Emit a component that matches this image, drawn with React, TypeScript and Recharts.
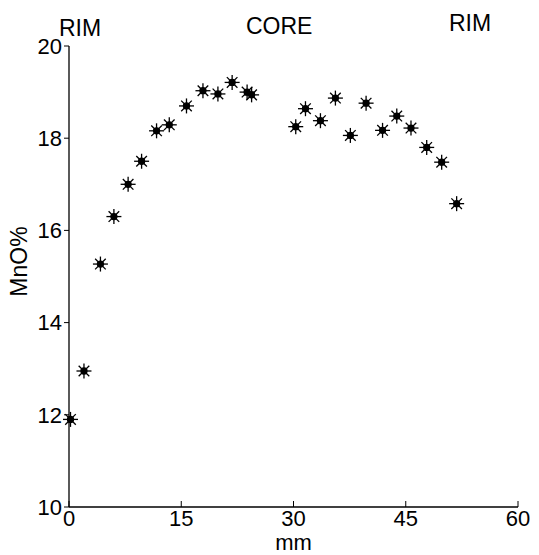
import React from 'react';
import { ScatterChart, Scatter, XAxis, YAxis, Label } from 'recharts';

// distance from rim (mm) and MnO content (%)
const distanceMm = [
  0.2, 2.0, 4.2, 6.0, 7.9, 9.7, 11.7, 13.4, 15.7, 17.9, 19.9, 21.8, 23.8, 24.4,
  30.3, 31.6, 33.6, 35.6, 37.6, 39.7, 41.9, 43.8, 45.7, 47.8, 49.8, 51.8,
];
const mnoPct = [
  11.9, 12.95, 15.27, 16.3, 17.0, 17.5, 18.16, 18.29, 18.7, 19.03, 18.96, 19.21, 19.0, 18.94,
  18.25, 18.64, 18.38, 18.87, 18.06, 18.76, 18.17, 18.48, 18.22, 17.8, 17.48, 16.58,
];
const xTicks = [0, 15, 30, 45, 60];
const yTicks = [10, 12, 14, 16, 18, 20];
const zoneLabels = ['RIM', 'CORE', 'RIM'];

const data = distanceMm.map((x, i) => ({ x, y: mnoPct[i] }));

const FONT = '"Liberation Sans", Arial, sans-serif';

function Star(props: any) {
  const { cx, cy } = props;
  const r = 7.5;
  const d = 5.3;
  return (
    <g stroke="#000" strokeWidth={1.3}>
      <line x1={cx - r} y1={cy} x2={cx + r} y2={cy} />
      <line x1={cx} y1={cy - r} x2={cx} y2={cy + r} />
      <line x1={cx - d} y1={cy - d} x2={cx + d} y2={cy + d} />
      <line x1={cx - d} y1={cy + d} x2={cx + d} y2={cy - d} />
      <circle cx={cx} cy={cy} r={3} fill="#000" />
    </g>
  );
}

function XTick(props: any) {
  const { x, y, payload } = props;
  return (
    <g>
      <line x1={x} y1={y} x2={x} y2={y - 6} stroke="#000" strokeWidth={1} />
      <text x={x} y={y + 19} textAnchor="middle" fontSize={22} fill="#000">
        {payload.value}
      </text>
    </g>
  );
}

const zoneStyle = [
  { left: 59, top: 17 },
  { left: 246, top: 15 },
  { left: 449, top: 12 },
];

export default function App() {
  return (
    <div style={{ position: 'absolute', left: 0, top: 0, width: 539, height: 555, background: '#fff', fontFamily: FONT }}>
      <ScatterChart width={539} height={555} margin={{ top: 46, right: 21, bottom: 0, left: 0 }}>
        <XAxis
          type="number"
          dataKey="x"
          domain={[0, 60]}
          ticks={xTicks}
          height={48}
          tickLine={false}
          tickSize={0}
          tickMargin={0}
          tick={<XTick />}
          axisLine={{ stroke: '#000', strokeWidth: 1.3 }}
        >
          <Label
            content={(p: any) => {
              const vb = p.viewBox;
              return (
                <text x={vb.x + vb.width / 2} y={vb.y + 43} textAnchor="middle" fontSize={22} fill="#000">
                  mm
                </text>
              );
            }}
          />
        </XAxis>
        <YAxis
          type="number"
          dataKey="y"
          domain={[10, 20]}
          ticks={yTicks}
          width={69}
          tickSize={5}
          tickMargin={2}
          tick={{ fontSize: 22, fill: '#000' }}
          tickLine={{ stroke: '#000' }}
          axisLine={{ stroke: '#000', strokeWidth: 1.3 }}
        >
          <Label
            content={(p: any) => {
              const vb = p.viewBox;
              const cx = vb.x + 19;
              const cy = vb.y + vb.height / 2 - 15;
              return (
                <text
                  x={cx}
                  y={cy}
                  textAnchor="middle"
                  dominantBaseline="central"
                  fontSize={23}
                  fill="#000"
                  transform={`rotate(-90, ${cx}, ${cy})`}
                >
                  MnO%
                </text>
              );
            }}
          />
        </YAxis>
        <Scatter data={data} shape={<Star />} isAnimationActive={false} />
      </ScatterChart>
      {zoneLabels.map((t, i) => (
        <div
          key={i}
          style={{ position: 'absolute', left: zoneStyle[i].left, top: zoneStyle[i].top, fontSize: 23, lineHeight: '23px', color: '#000' }}
        >
          {t}
        </div>
      ))}
    </div>
  );
}
